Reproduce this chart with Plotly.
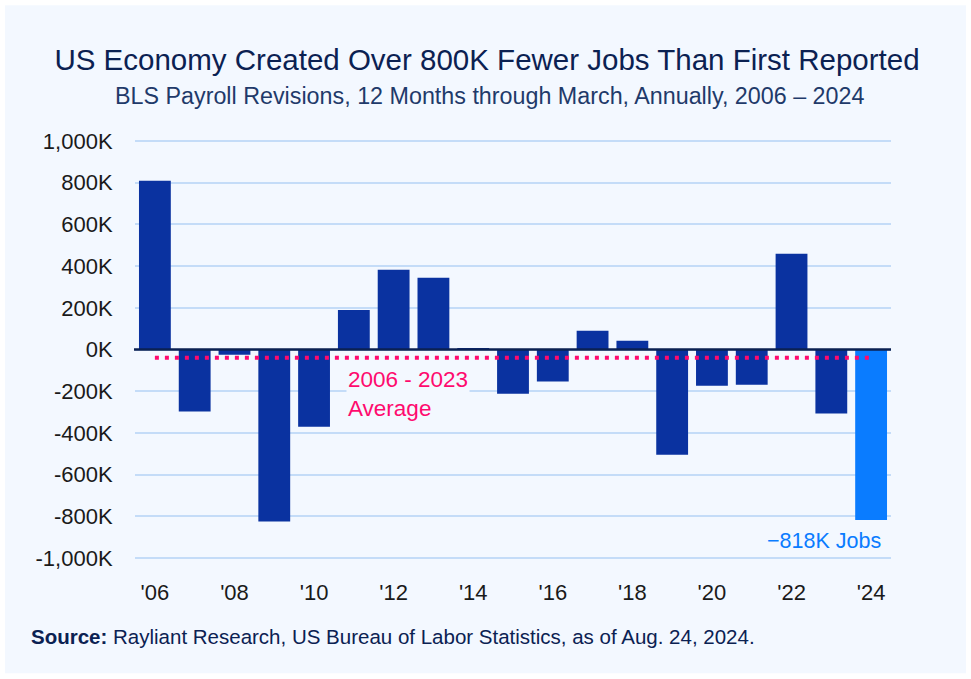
import plotly.graph_objects as go

years = [str(y) for y in range(2006, 2025)]
revisions = [809, -297, -25, -825, -371, 190, 382, 344, 4, -212, -153, 90, 42, -505, -174, -169, 459, -307, -818]
avg_2006_2023 = -40
tick_years = [str(y) for y in range(2006, 2025, 2)]
tick_labels = ["'" + y[2:] for y in tick_years]
y_ticks = [1000, 800, 600, 400, 200, 0, -200, -400, -600, -800, -1000]
y_labels = ["1,000K", "800K", "600K", "400K", "200K", "0K", "-200K", "-400K", "-600K", "-800K", "-1,000K"]

NAVY = "#0A32A0"
BRIGHT = "#0A7CFF"
PINK = "#FF0A6E"
PANEL = "#F3F8FF"
GRID = "#C4DCF8"
TITLE = "#0B2152"
FONT = "Liberation Sans"

colors = [NAVY] * (len(years) - 1) + [BRIGHT]

fig = go.Figure()
fig.add_trace(go.Bar(x=years, y=revisions, marker=dict(color=colors, line=dict(width=0)),
                     hoverinfo="x+y"))

L, R, T, B = 135, 80, 139.7, 120.3
W, H = 971, 679
pw, ph = W - L - R, H - T - B

def px_x(x):
    return (x - L) / pw

def px_y(y):
    return (H - B - y) / ph

shapes = [
    dict(type="rect", xref="paper", yref="paper", x0=px_x(5), x1=px_x(966), y0=px_y(673), y1=px_y(5),
         fillcolor=PANEL, line=dict(width=0), layer="below"),
    dict(type="line", xref="paper", yref="y", x0=px_x(134), x1=1, y0=0, y1=0,
         line=dict(color="#0B2152", width=2.5), layer="above"),
    dict(type="line", xref="x", yref="y", x0=0, x1=len(years) - 1, y0=avg_2006_2023, y1=avg_2006_2023,
         line=dict(color=PINK, width=4, dash="4px,6px"), layer="above"),
]

annotations = [
    dict(text="BLS Payroll Revisions, 12 Months through March, Annually, 2006 \u2013 2024",
         xref="paper", yref="paper", x=px_x(489), y=px_y(96), xanchor="center", yanchor="middle",
         showarrow=False, font=dict(family=FONT, size=23.3, color="#1F3A6A")),
    dict(text="2006 - 2023<br>Average", xref="x", yref="y", x=4.8, y=-212, xanchor="left", yanchor="middle",
         align="left", showarrow=False, bgcolor=PANEL, borderpad=1,
         font=dict(family=FONT, size=22.5, color=PINK)),
    dict(text="\u2212818K Jobs", xref="x", yref="y", x=18.3, y=-917, xanchor="right", yanchor="middle",
         showarrow=False, font=dict(family=FONT, size=21.5, color=BRIGHT)),
    dict(text="<b>Source:</b> Rayliant Research, US Bureau of Labor Statistics, as of Aug. 24, 2024.",
         xref="paper", yref="paper", x=px_x(29), y=px_y(636), xanchor="left", yanchor="middle",
         showarrow=False, font=dict(family=FONT, size=20.5, color=TITLE)),
]

fig.update_layout(
    width=W, height=H,
    margin=dict(l=L, r=R, t=T, b=B),
    paper_bgcolor="white", plot_bgcolor="rgba(0,0,0,0)",
    title=dict(text="US Economy Created Over 800K Fewer Jobs Than First Reported",
               x=487 / W, xref="container", xanchor="center", y=1 - 60 / H, yref="container", yanchor="middle",
               font=dict(family=FONT, size=29.5, color=TITLE)),
    bargap=0.2,
    showlegend=False,
    shapes=shapes,
    annotations=annotations,
    xaxis=dict(type="category", categoryorder="array", categoryarray=years,
               tickmode="array", tickvals=tick_years, ticktext=tick_labels,
               showgrid=False, zeroline=False, showline=False,
               ticks="outside", ticklen=14, tickcolor="rgba(0,0,0,0)",
               tickfont=dict(family=FONT, size=22, color="#1A1A1A"),
               range=[-0.5, len(years) - 0.5]),
    yaxis=dict(range=[-1005, 1005], tickmode="array", tickvals=y_ticks, ticktext=y_labels,
               showgrid=True, gridcolor=GRID, gridwidth=2, zeroline=False, showline=False,
               ticks="outside", ticklen=17, tickcolor="rgba(0,0,0,0)",
               tickfont=dict(family=FONT, size=22, color="#1A1A1A")),
)

fig.write_html("out.html", config={"displayModeBar": False},
               post_script="document.body.style.margin='0px';")
